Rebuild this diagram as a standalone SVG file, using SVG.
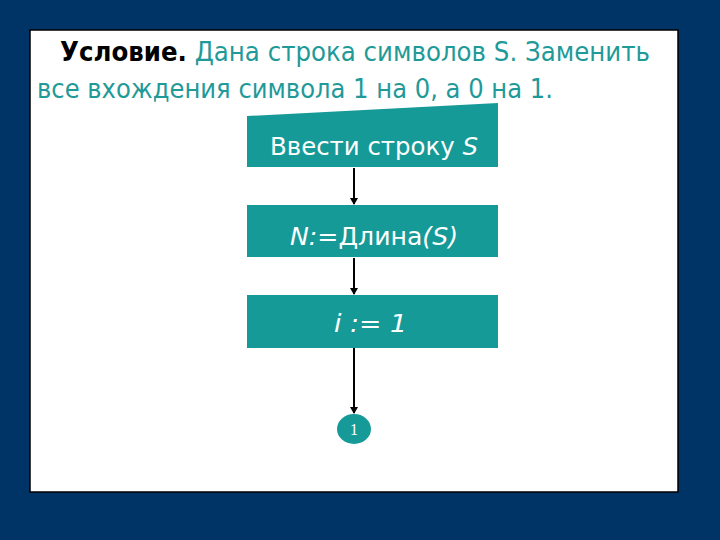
<svg xmlns="http://www.w3.org/2000/svg" width="720" height="540" viewBox="0 0 720 540">
<style>
.box{fill:#159a98;}
.lbl{font-family:"DejaVu Sans",Verdana,sans-serif;fill:#ffffff;font-size:25px;}
.it{font-style:italic;}
.conn{stroke:#000;stroke-width:2;fill:none;marker-end:url(#ah);}
.t{font-family:"DejaVu Sans",Verdana,sans-serif;font-size:26px;fill:#1f9a98;}
</style>
<defs>
<marker id="ah" markerWidth="8" markerHeight="8" refX="6" refY="4" orient="auto" markerUnits="userSpaceOnUse">
<path d="M0,0 L7,4 L0,8 z" fill="#000"/>
</marker>
</defs>
<rect x="0" y="0" width="720" height="540" fill="#003366"/>
<rect x="30" y="30" width="648" height="462" fill="#ffffff" stroke="#000" stroke-width="1.5"/>
<text class="t" x="60" y="61" textLength="590" lengthAdjust="spacingAndGlyphs"><tspan font-weight="bold" fill="#000">Условие.</tspan> Дана строка символов S. Заменить</text>
<text class="t" x="37" y="98" textLength="516" lengthAdjust="spacingAndGlyphs">все вхождения символа 1 на 0, а 0 на 1.</text>
<g id="connectors">
<line class="conn" x1="354" y1="168" x2="354" y2="204"/>
<line class="conn" x1="354" y1="258" x2="354" y2="294"/>
<line class="conn" x1="354" y1="348" x2="354" y2="413"/>
</g>
<g id="n1">
<polygon class="box" points="247,116 498,103 498,167 247,167"/>
<text class="lbl" x="270" y="155" textLength="208" lengthAdjust="spacingAndGlyphs">Ввести строку <tspan class="it">S</tspan></text>
</g>
<g id="n2">
<rect class="box" x="247" y="205" width="251" height="52"/>
<text class="lbl" x="290" y="245" textLength="168" lengthAdjust="spacingAndGlyphs"><tspan class="it">N:</tspan>=Длина<tspan class="it">(S)</tspan></text>
</g>
<g id="n3">
<rect class="box" x="247" y="295" width="251" height="53"/>
<text class="lbl it" x="334" y="332" textLength="73" lengthAdjust="spacingAndGlyphs">i := 1</text>
</g>
<g id="n4">
<ellipse class="box" cx="354" cy="429" rx="17" ry="15"/>
<text x="354" y="435" font-family="Liberation Serif,serif" font-size="16" fill="#fff" text-anchor="middle">1</text>
</g>
</svg>
